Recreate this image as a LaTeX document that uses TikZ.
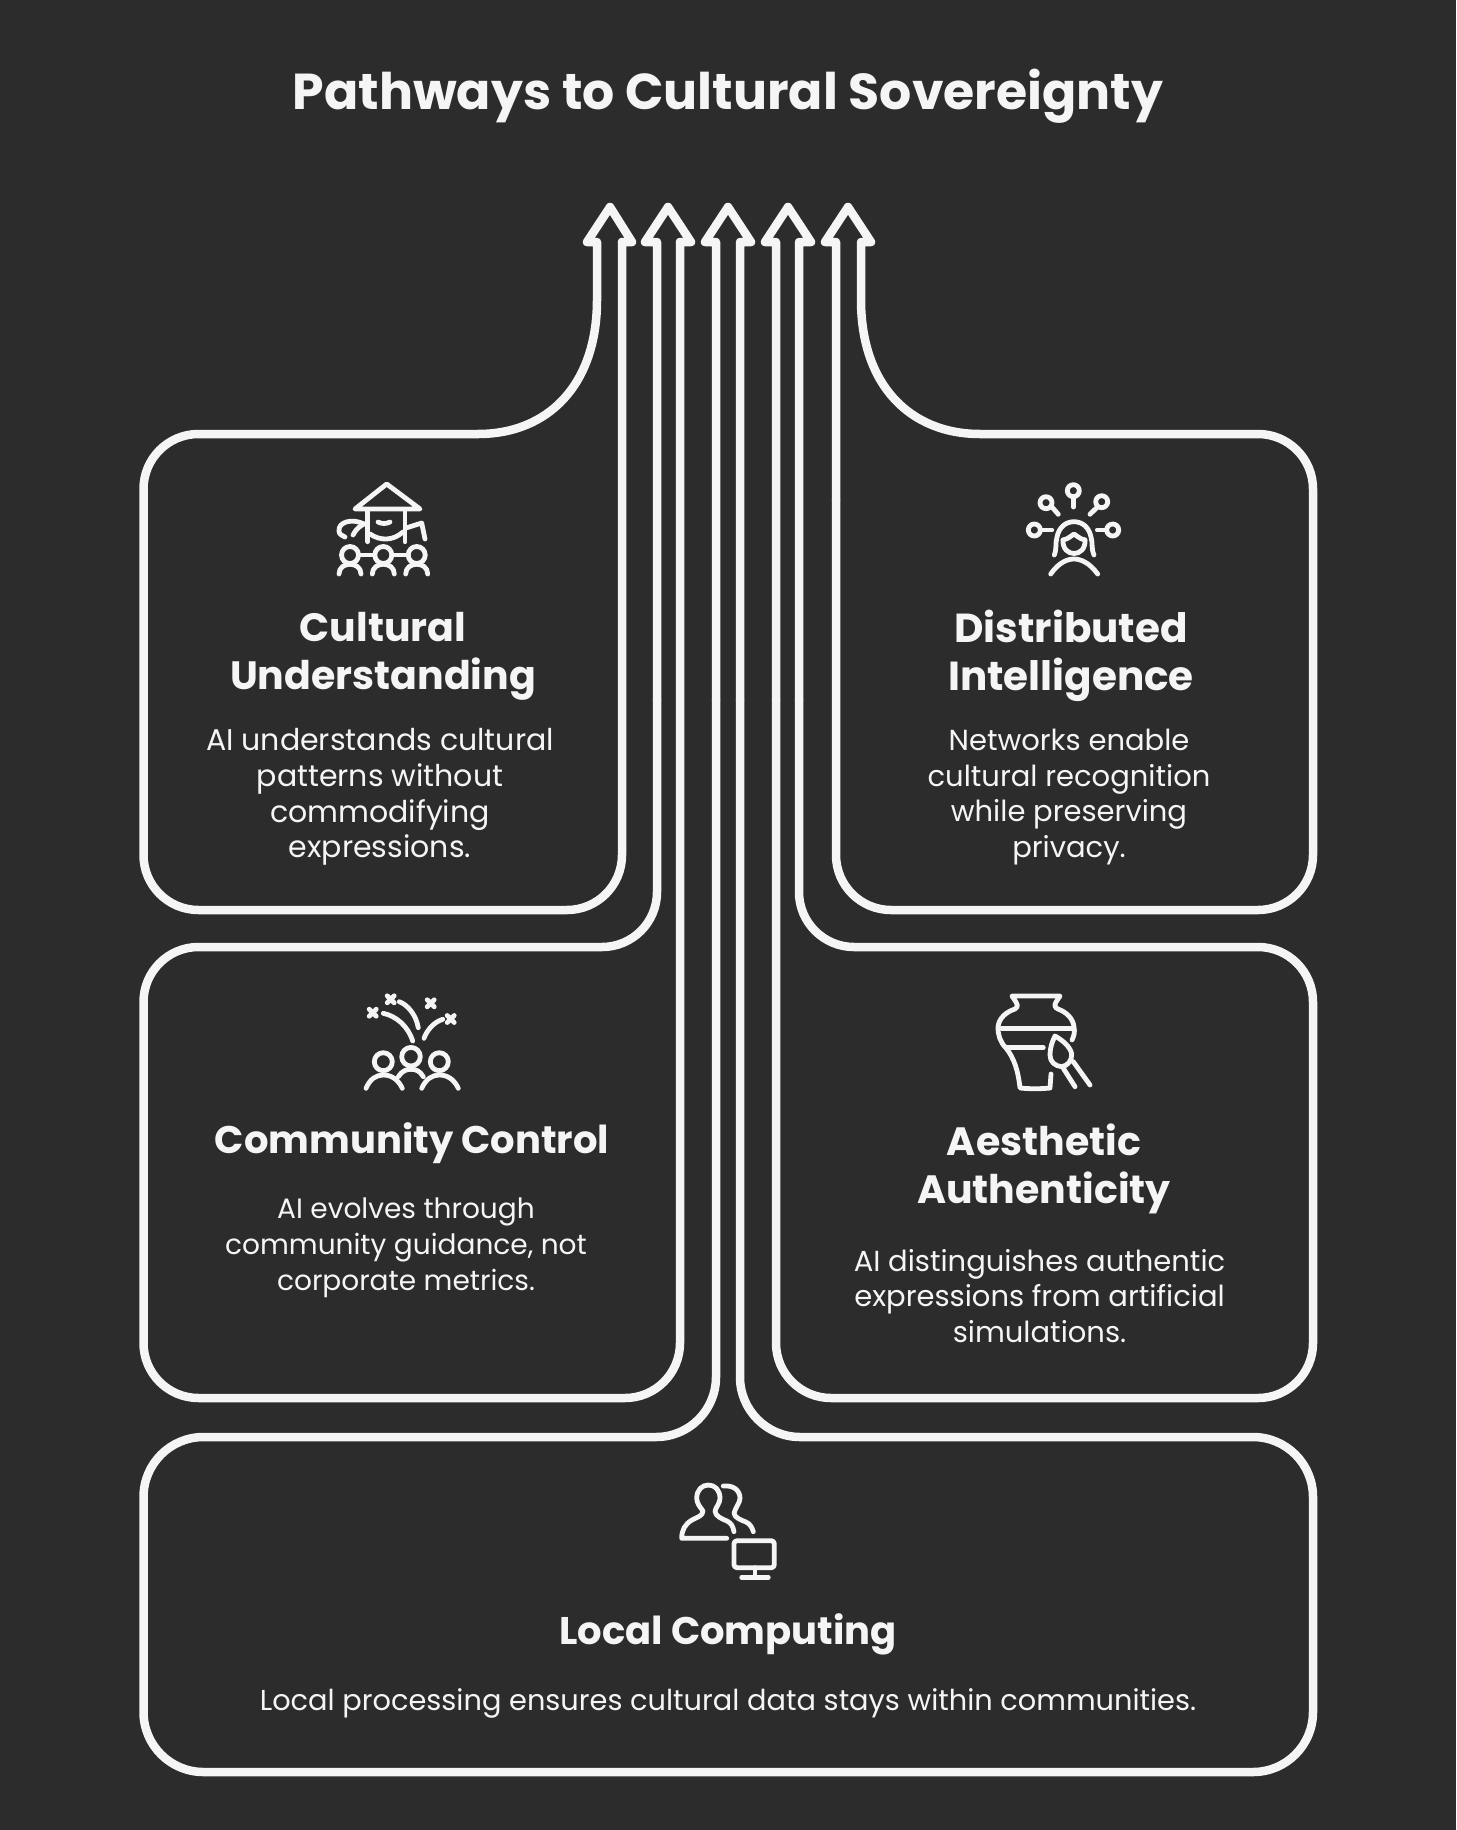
\documentclass[tikz,border=0pt]{standalone}
\usepackage{fontspec}
\setmainfont{Poppins}
\definecolor{bgc}{HTML}{2C2C2C}
\definecolor{inkc}{HTML}{F5F5F5}
\tikzset{
  outl/.style={draw=inkc,line width=8.5pt,line join=round,line cap=round},
  ico/.style={draw=inkc,line width=4.8pt,line join=round,line cap=round},
  titletxt/.style={text=inkc,font=\fontsize{50.5}{54}\selectfont\bfseries,inner sep=0pt},
  headtxt/.style={text=inkc,font=\fontsize{39.5}{48}\selectfont\bfseries,align=center,inner sep=0pt},
  bodytxt/.style={text=inkc,font=\fontsize{29}{35.8}\selectfont,align=center,inner sep=0pt}
}
\begin{document}
\begin{tikzpicture}[x=1pt,y=-1pt]
\useasboundingbox (0,0) rectangle (1456,1830);
\fill[bgc] (0,0) rectangle (1456,1830);

\node[titletxt] (title) at (728,96) {Pathways to Cultural Sovereignty};

% outline 1 : Cultural Understanding
\draw[outl,rounded corners=55pt] (622,242) -- (622,910) -- (143.5,910) -- (143.5,434) -- (478,434);
\draw[outl] (478,434) .. controls (548,434) and (597,385) .. (597,300) -- (597,242) -- (587,242) -- (610,207) -- (632,242) -- (622,242);
% outline 2 : Community Control
\draw[outl,rounded corners=55pt] (680,242) -- (680,1398) -- (143.5,1398) -- (143.5,947) -- (657,947) -- (657,700);
\draw[outl] (657,700) -- (657,242) -- (645,242) -- (668,207) -- (691,242) -- (680,242);
% outline 3 : Local Computing
\draw[outl,rounded corners=60pt] (716,700) -- (716,1437) -- (143.5,1437) -- (143.5,1772) -- (1313,1772) -- (1313,1437) -- (740,1437) -- (740,700);
\draw[outl] (740,700) -- (740,242) -- (751,242) -- (728,207) -- (705,242) -- (716,242) -- (716,700);
% outline 4 : Aesthetic Authenticity
\draw[outl,rounded corners=55pt] (799,700) -- (799,947) -- (1313,947) -- (1313,1398) -- (776,1398) -- (776,700);
\draw[outl] (776,700) -- (776,242) -- (765,242) -- (788,207) -- (811,242) -- (799,242) -- (799,700);
% outline 5 : Distributed Intelligence
\draw[outl,rounded corners=55pt] (836,500) -- (836,910) -- (1313,910) -- (1313,434) -- (980,434);
\draw[outl] (980,434) .. controls (910,434) and (861,385) .. (861,300) -- (861,242) -- (871,242) -- (848,207) -- (825,242) -- (836,242) -- (836,500);

% texts
\node[headtxt] (h1) at (383,656) {Cultural\\Understanding};
\node[bodytxt,font=\fontsize{30}{35.8}\selectfont] (b1) at (380,797) {AI understands cultural\\patterns without\\commodifying\\expressions.};
\node[headtxt,font=\fontsize{40.5}{48}\selectfont\bfseries] (h3) at (1071,656) {Distributed\\Intelligence};
\node[bodytxt] (b3) at (1069,797) {Networks enable\\cultural recognition\\while preserving\\privacy.};
\node[headtxt,font=\fontsize{38.5}{48}\selectfont\bfseries] (h2) at (412,1143) {Community Control};
\node[bodytxt,font=\fontsize{28}{35.8}\selectfont] (b2) at (406,1248) {AI evolves through\\community guidance, not\\corporate metrics.};
\node[headtxt] (h4) at (1044,1169) {Aesthetic\\Authenticity};
\node[bodytxt] (b4) at (1039.5,1296) {AI distinguishes authentic\\expressions from artificial\\simulations.};
\node[headtxt,font=\fontsize{38.5}{48}\selectfont\bfseries] (h5) at (728,1634) {Local Computing};
\node[bodytxt,font=\fontsize{28.8}{35.8}\selectfont] (b5) at (728,1703) {Local processing ensures cultural data stays within communities.};

% icon 1
\draw[ico] (386.7,484) -- (355,509) -- (420,509) -- cycle;
\draw[ico] (367.7,510) -- (367.7,541.7) (405,510) -- (405,541.7);
\draw[ico] (378,522) .. controls (382,524) and (386,524) .. (390,522);
\draw[ico] (370,534) .. controls (380,541) and (393,541) .. (403,532);
\draw[ico] (353,535) .. controls (356,529) and (360,526) .. (364,524);
\draw[ico] (364,524) .. controls (352,518) and (338,522) .. (339,531) .. controls (339,534) and (342,536) .. (345,537);
\draw[ico] (406,528) -- (421.7,523) -- (425,539);
\foreach \cx in {350,383.3,416.7} {
  \draw[ico] (\cx,555) circle[radius=8.5];
  \draw[ico] (\cx-11,574) .. controls (\cx-11,561) and (\cx+11,561) .. (\cx+11,574);
}
\draw[ico] (359,555) -- (374,555) (392,555) -- (407,555);

% icon 2
\draw[ico] (1073.3,490.7) circle[radius=6];
\draw[ico] (1073.3,498) -- (1073.3,507);
\draw[ico] (1046,502.7) circle[radius=6];
\draw[ico] (1051.7,506.7) -- (1058.3,514.3);
\draw[ico] (1101.7,501.7) circle[radius=6];
\draw[ico] (1096.7,507.7) -- (1090,514.3);
\draw[ico] (1034.3,530) circle[radius=6];
\draw[ico] (1042.3,530) -- (1051.7,530);
\draw[ico] (1112.7,530) circle[radius=6];
\draw[ico] (1105,530) -- (1097.3,530);
\draw[ico] (1054.3,555) .. controls (1057,548) and (1055,544) .. (1057,537) .. controls (1059,527) and (1066,521.7) .. (1074,521.7) .. controls (1082,521.7) and (1089,527) .. (1091,537) .. controls (1093,544) and (1091,548) .. (1094,555);
\draw[ico] (1063,540) .. controls (1068,539) and (1071,536) .. (1074,534) .. controls (1077,536) and (1080,539) .. (1085,540);
\draw[ico] (1063,540) .. controls (1062,558) and (1086,558) .. (1085,540);
\draw[ico] (1050.7,574) .. controls (1059,562) and (1068,559) .. (1074,559) .. controls (1080,559) and (1089,562) .. (1097.7,574);

% icon 3
\draw[ico] (383.3,1061.7) circle[radius=9];
\draw[ico] (411,1056.7) circle[radius=9.3];
\draw[ico] (439.3,1061.7) circle[radius=9];
\draw[ico] (366,1088.3) .. controls (370,1079) and (376,1075) .. (383.3,1075) .. controls (391,1075) and (398,1079) .. (402.3,1088.3);
\draw[ico] (398.3,1076.7) .. controls (402,1071) and (406,1069.3) .. (411,1069.3) .. controls (416,1069.3) and (420,1071) .. (423.3,1076.7);
\draw[ico] (421.7,1088.3) .. controls (426,1079) and (432,1075) .. (439.3,1075) .. controls (447,1075) and (454,1079) .. (458.3,1088.3);
\draw[ico] (383.3,1013.3) .. controls (396,1016) and (408,1026) .. (412.7,1041);
\draw[ico] (399.3,1001.7) .. controls (408,1005) and (416,1015) .. (418.3,1027.7);
\draw[ico] (424,1038.3) .. controls (427,1030) and (434,1022) .. (442.7,1019.3);
\foreach \mx/\my in {372.7/1012.7,390.7/999.3,430.7/1003.3,450.7/1019} {
  \draw[ico] (\mx-3.5,\my-3.5) -- (\mx+3.5,\my+3.5) (\mx-3.5,\my+3.5) -- (\mx+3.5,\my-3.5);
}

% icon 4
\draw[ico] (1051,1074) -- (1050,1088) .. controls (1040,1089) and (1030,1089) .. (1020,1088) .. controls (1018,1070) and (1014,1058) .. (1006,1048)
  .. controls (1000,1042) and (998,1035) .. (998,1027) .. controls (999,1018) and (1006,1012) .. (1015,1009) .. controls (1018,1007) and (1018,1004) .. (1016,1002) -- (1012,996)
  -- (1060,996) -- (1056,1002) .. controls (1054,1005) and (1055,1008) .. (1058,1009) .. controls (1066,1012) and (1073,1018) .. (1074,1027) .. controls (1075,1032) and (1074,1036) .. (1072,1040);
\draw[ico] (1001.7,1028.3) -- (1071.7,1028.3);
\draw[ico] (1006.7,1047.7) -- (1043.3,1047.7);
\draw[ico] (1055,1036) .. controls (1051,1044) and (1050,1050) .. (1050,1055) .. controls (1050,1062) and (1055,1066) .. (1061.7,1066.7) .. controls (1068,1066) and (1072,1060) .. (1071.7,1054) .. controls (1070,1046) and (1062,1040) .. (1055,1036);
\draw[ico] (1063.3,1068.3) -- (1075,1086.7);
\draw[ico] (1073.3,1061.7) -- (1090,1085);

% icon 5
\draw[ico] (726.7,1538.3) -- (681.7,1538.3) .. controls (681.7,1530) and (685,1524) .. (692,1520) .. controls (697,1517) and (703,1516) .. (703,1511) .. controls (700,1507) and (696.7,1503) .. (696.7,1498.3) .. controls (696.7,1490) and (702,1485) .. (708.3,1485) .. controls (715,1485) and (720,1490) .. (720,1498.3) .. controls (720,1503) and (716,1507) .. (715,1511) .. controls (715,1516) and (722,1519) .. (727,1521) .. controls (731,1523) and (733,1526) .. (734,1531.7);
\draw[ico] (723.3,1486) .. controls (733,1485) and (740,1490) .. (740,1498.3) .. controls (740,1503) and (735,1508) .. (734,1513.3) .. controls (735,1518) and (741,1520) .. (746,1522) .. controls (750,1524) and (752,1527) .. (753.3,1531.7);
\draw[ico,rounded corners=3pt] (734,1540.7) rectangle (774.3,1567.7);
\draw[ico] (755,1567.7) -- (755,1576.7);
\draw[ico] (741.7,1577.3) -- (768.3,1577.3);
\end{tikzpicture}
\end{document}
